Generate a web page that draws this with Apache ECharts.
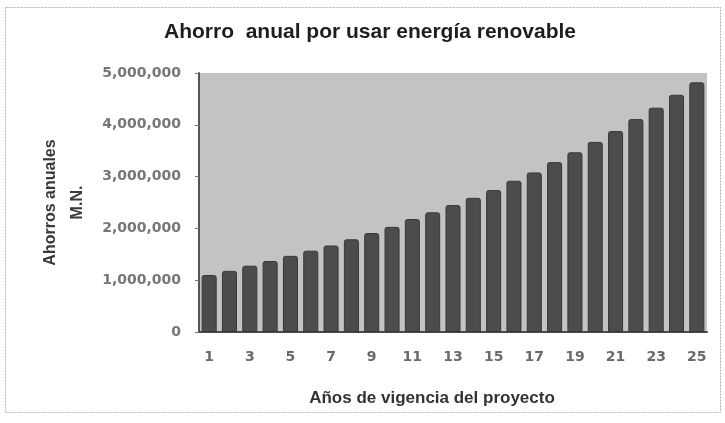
<!DOCTYPE html>
<html>
<head>
<meta charset="utf-8">
<script src="https://cdn.jsdelivr.net/npm/echarts@6/dist/echarts.min.js"></script>
<style>
  html, body { margin: 0; padding: 0; background: #fff; }
  #main { width: 725px; height: 423px; }
</style>
</head>
<body>
<div id="main"></div>
<script>
// años del proyecto y ahorro anual (M.N.)
var anios = ['1','2','3','4','5','6','7','8','9','10','11','12','13','14','15','16','17','18','19','20','21','22','23','24','25'];
var ahorros = [1100000, 1180000, 1280000, 1370000, 1470000, 1570000, 1670000, 1790000, 1910000, 2030000,
	2180000, 2310000, 2450000, 2590000, 2740000, 2920000, 3080000, 3280000, 3470000, 3670000,
	3880000, 4110000, 4330000, 4580000, 4820000];
var yTicks = [0, 1000000, 2000000, 3000000, 4000000, 5000000];

var chart = echarts.init(document.getElementById('main'));

var option = {
	backgroundColor: '#ffffff',
	animation: false,
	title: {
		text: 'Ahorro  anual por usar energía renovable',
		left: 370,
		top: 22,
		textAlign: 'center',
		padding: 0,
		textStyle: {
			fontFamily: 'Liberation Sans',
			fontWeight: 'bold',
			fontSize: 21,
			color: '#1e1e1e'
		}
	},
	graphic: [{
		type: 'rect',
		shape: { x: 5.5, y: 7.5, width: 715, height: 405 },
		style: { fill: 'none', stroke: '#b4b4b4', lineWidth: 1, lineDash: [2, 1] },
		silent: true
	}],
	grid: {
		left: 199,
		right: 18,
		top: 73,
		bottom: 91,
		show: true,
		backgroundColor: '#c3c3c3',
		borderWidth: 0
	},
	xAxis: {
		type: 'category',
		data: anios,
		name: 'Años de vigencia del proyecto',
		nameLocation: 'middle',
		nameGap: 58,
		nameTextStyle: {
			fontFamily: 'Liberation Sans',
			fontWeight: 'bold',
			fontSize: 17,
			color: '#333333',
			padding: [0, 42, 0, 0]
		},
		axisLine: { lineStyle: { color: '#4a4a4a', width: 2 } },
		axisTick: { show: false },
		axisLabel: {
			interval: 1,
			margin: 18,
			fontFamily: 'DejaVu Sans',
			fontWeight: 'bold',
			fontSize: 14,
			color: '#6a6a6a'
		}
	},
	yAxis: {
		type: 'value',
		min: yTicks[0],
		max: yTicks[yTicks.length - 1],
		interval: 1000000,
		name: 'Ahorros anuales\nM.N.',
		nameLocation: 'middle',
		nameRotate: 90,
		nameGap: 108,
		nameTextStyle: {
			fontFamily: 'Liberation Sans',
			fontWeight: 'bold',
			fontSize: 16,
			lineHeight: 27,
			color: '#3a3a3a'
		},
		axisLine: { show: true, lineStyle: { color: '#555555', width: 2 } },
		axisTick: { show: true, length: 4, lineStyle: { color: '#777777' } },
		splitLine: { show: false },
		axisLabel: {
			margin: 18,
			fontFamily: 'DejaVu Sans',
			fontWeight: 'bold',
			fontSize: 14,
			color: '#767676',
			formatter: function (v) {
				return v.toLocaleString('en-US');
			}
		}
	},
	series: [{
		type: 'bar',
		data: ahorros,
		barCategoryGap: '26%',
		itemStyle: {
			color: '#4c4c4c',
			borderColor: '#383838',
			borderWidth: 1,
			borderRadius: [2, 2, 0, 0]
		}
	}]
};

chart.setOption(option);
</script>
</body>
</html>
